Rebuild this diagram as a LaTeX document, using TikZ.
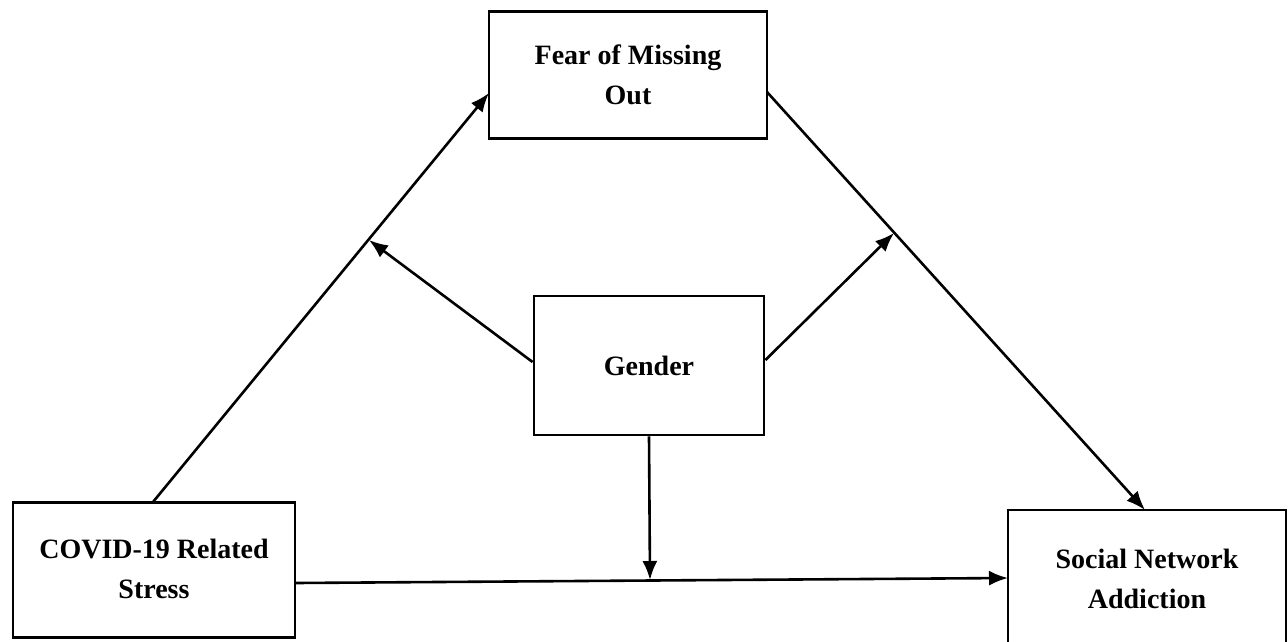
\documentclass[tikz,border=0pt]{standalone}
\usepackage{fontspec}
\setmainfont{Liberation Serif}
\usetikzlibrary{arrows.meta}
\begin{document}
\begin{tikzpicture}[x=1pt,y=-1pt,
  box/.style={draw,line width=2.8pt,inner sep=0pt},
  lbl/.style={font=\fontsize{28}{40}\selectfont\bfseries,align=center},
  conn/.style={line width=2.6pt,-{Latex[length=19pt,width=15pt]}}]
\useasboundingbox (0,0) rectangle (1288,641);
% boxes
\node[box,minimum width=278pt,minimum height=127pt] (fomo) at (628,75) {};
\node[lbl] at (fomo.center) {Fear of Missing\\Out};
\node[box,minimum width=230pt,minimum height=139pt] (gender) at (649,365.5) {};
\node[lbl] at (gender.center) {Gender};
\node[box,minimum width=282pt,minimum height=135pt] (covid) at (154,570) {};
\node[lbl] at ([yshift=1pt]covid.center) {COVID-19 Related\\Stress};
\node[box,minimum width=278pt,minimum height=138pt] (sna) at (1147,579) {};
\node[lbl] at (sna.center) {Social Network\\Addiction};
% connection points
\coordinate (cs) at (153,502);
\coordinate (fe) at (489,93);
\coordinate (fs) at (767,92);
\coordinate (se) at (1145,510);
\coordinate (cr) at (295,583);
\coordinate (sl) at (1008,578);
\coordinate (m1) at (369,240);
\coordinate (m2) at (894,233);
\coordinate (m3) at (650,580);
% main paths
\draw[conn] (cs) -- (fe);
\draw[conn] (fs) -- (se);
\draw[conn] (cr) -- (sl);
% moderator arrows
\draw[conn] (gender.west |- 0,362) -- (m1);
\draw[conn] (gender.east |- 0,360) -- (m2);
\draw[conn] (gender.south) -- (m3);
\end{tikzpicture}
\end{document}
